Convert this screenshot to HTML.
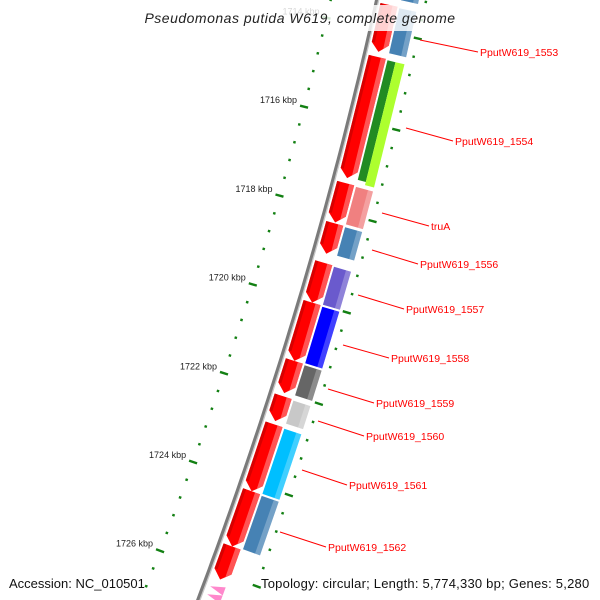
<!DOCTYPE html>
<html><head><meta charset="utf-8"><style>
html,body{margin:0;padding:0;background:#fff;width:600px;height:600px;overflow:hidden;}
svg{display:block;font-family:"Liberation Sans",sans-serif;overflow:hidden;}
</style></head><body>
<svg id="chart" width="600" height="600" viewBox="0 0 600 600" xmlns="http://www.w3.org/2000/svg">
<g id="ticks"></g>
<g id="backbone"></g>
<g id="genes"></g>
<g id="labels"></g>
<rect x="137" y="5" width="326" height="26" fill="#fff" fill-opacity="0.82"/>
<text x="300" y="23" text-anchor="middle" font-size="14" font-style="italic" fill="#222" letter-spacing="0.5">Pseudomonas putida W619, complete genome</text>
<text x="9" y="588" font-size="13" fill="#111">Accession: NC_010501</text>
<text x="261" y="588" font-size="13" fill="#111" letter-spacing="0.22">Topology: circular; Length: 5,774,330 bp; Genes: 5,280</text>
</svg>
<script>
const geneStart = [1712.50,1713.43,1714.58,1717.37,1718.26,1719.13,1720.01,1721.30,1722.08,1722.70,1724.18,1725.40];
const geneEnd   = [1713.30,1714.47,1717.26,1718.24,1718.93,1720.01,1721.30,1722.01,1722.63,1724.18,1725.40,1726.13];
const cogColor  = ["#4682b4","#4682b4","green","#f08080","#4682b4","#6a5acd","#0000ff","#666666","#c8c8c8","#00bfff","#4682b4",""];
const majorTicks = [1714,1716,1718,1720,1722,1724,1726];
const tickLabels = ["1714 kbp","1716 kbp","1718 kbp","1720 kbp","1722 kbp","1724 kbp","1726 kbp"];
const labelText = ["PputW619_1553","PputW619_1554","truA","PputW619_1556","PputW619_1557","PputW619_1558","PputW619_1559","PputW619_1560","PputW619_1561","PputW619_1562"];
const labelPos = [[480,52,420,40],[455,141,406,128],[431,226,382,213],[420,264,372,250],[406,309,358,295],[391,358,343,345],[376,403,328,389],[366,436,318,421],[349,485,302,470],[328,547,280,532]];

const NS="http://www.w3.org/2000/svg";
function U(kbp){return 118+(kbp-1716)*45.1;}
function X(u){return 377-0.22*u-0.00013*u*u;}
function S(u){return 0.22+0.00026*u;}
function pt(u,d){return [X(u)+d, u+d*S(u)];}
function P(a){return a.map(p=>p[0].toFixed(1)+","+p[1].toFixed(1)).join(" ");}
function mk(tag,attrs,parent){const e=document.createElementNS(NS,tag);for(const k in attrs)e.setAttribute(k,attrs[k]);parent.appendChild(e);return e;}

const bb=document.getElementById('backbone');
let pts=[];for(let u=-40;u<=610;u+=10)pts.push(pt(u,0));
let bl=mk('polyline',{points:P(pts),fill:'none',stroke:'#7a7a7a','stroke-width':4},bb);


pts=[];for(let u=-40;u<=610;u+=10)pts.push(pt(u,1.6));
let bh=mk('polyline',{points:P(pts),fill:'none',stroke:'#c8c8c8','stroke-width':1.3},bb);



const tg=document.getElementById('ticks');
for(let k=-4;k<=32;k++){
  const kbp=1714+0.4*k;const u=U(kbp);const major=(k%5===0);
  const len=major?4:1.2;
  const ld=-44-0.01*u;
  const a=pt(u,ld-len),b=pt(u,ld+len);
  const t1=mk('line',{x1:a[0],y1:a[1],x2:b[0],y2:b[1],stroke:'#138013','stroke-width':2.4},tg);
  
  
  const c=pt(u,47-len),d=pt(u,47+len);
  const t2=mk('line',{x1:c[0],y1:c[1],x2:d[0],y2:d[1],stroke:'#138013','stroke-width':2.4},tg);
  
  
}
majorTicks.forEach((kb,i)=>{
  const u=U(kb);const ld=-44-0.01*u;const p=pt(u,ld-6);
  const t=mk('text',{x:(p[0]-1).toFixed(1),y:(p[1]-2).toFixed(1),'text-anchor':'end','font-size':9,fill:'#222'},tg);
  t.textContent=tickLabels[i];
  
  
});

const gg=document.getElementById('genes');
geneStart.forEach((s,i)=>{
  const u0=U(s),u1=U(geneEnd[i]);
  const d1=4,d2=21,dm=12.5,tip=Math.min(8,(u1-u0)*0.5);
  const poly=[pt(u0,d1),pt(u0,d2),pt(u1-tip,d2),pt(u1,dm),pt(u1-tip,d1)];
  const g=mk('polygon',{points:P(poly),fill:'#ff0000'},gg);
  
  
  const hl=[pt(u0,16),pt(u0,d2),pt(u1-tip,d2),pt(u1,dm),pt(u1-tip*0.5,16.5)];
  const h=mk('polygon',{points:P(hl),fill:'#ff7070',opacity:0.75},gg);
  
  
  const dk=[pt(u0,d1),pt(u0,7),pt(u1-tip,7),pt(u1-tip,d1)];
  const dd=mk('polygon',{points:P(dk),fill:'#c80000',opacity:0.7},gg);
  
  
  const col=cogColor[i];
  if(col){
    const a=u0+1,b=u1-1;
    if(col==='green'){
      const r1=mk('polygon',{points:P([pt(a,23),pt(a,31),pt(b,31),pt(b,23)]),fill:'#228b22'},gg);
      
      
      const r2=mk('polygon',{points:P([pt(a,31),pt(a,40),pt(b+3,40),pt(b+3,31)]),fill:'#adff2f'},gg);
      
      
    } else {
      const r=mk('polygon',{points:P([pt(a,23),pt(a,40),pt(b,40),pt(b,23)]),fill:col},gg);
      
      
      const r3=mk('polygon',{points:P([pt(a,35),pt(a,40),pt(b,40),pt(b,35)]),fill:'#fff',opacity:0.25},gg);
      
      
    }
  }
});
[588,596].forEach(y=>{
  const u=y-4;
  const p=mk('polygon',{points:P([pt(u,6),pt(u-4,20),pt(u+4,20)]),fill:'#ff88cc'},gg);
  
  
});

const lg=document.getElementById('labels');
labelText.forEach((t,i)=>{
  const [tx,ty,lx,ly]=labelPos[i];
  const l=mk('line',{x1:lx,y1:ly,x2:tx-2,y2:ty,stroke:'#ff0000','stroke-width':1},lg);
  
  
  const e=mk('text',{x:tx,y:ty+4,'font-size':10.5,fill:'#ff0000'},lg);
  e.textContent=t;
  
  
});
</script>
</body></html>
